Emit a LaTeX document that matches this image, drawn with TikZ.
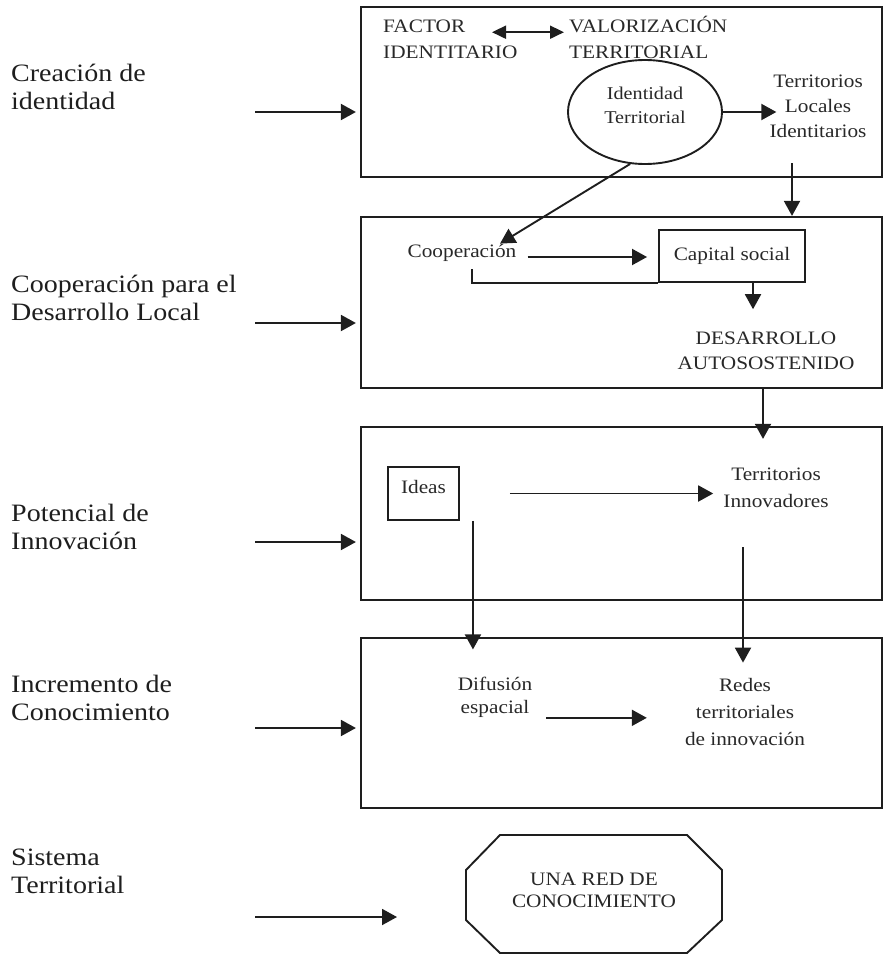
\documentclass[tikz,border=0pt]{standalone}
\usepackage{fontspec}
\setmainfont{Liberation Serif}[FakeStretch=1.12]
\usetikzlibrary{arrows.meta,calc,shapes.geometric}
\definecolor{ink}{RGB}{30,30,30}
\definecolor{txt}{RGB}{40,40,40}
\begin{document}
\begin{tikzpicture}[x=1pt,y=-1pt,
  every node/.style={inner sep=0pt, text=txt},
  box/.style={draw=ink, line width=2.2pt, minimum width=521pt, inner sep=0pt},
  frame/.style={draw=ink, line width=1.9pt},
  arr/.style={draw=ink, line width=1.9pt, -{Triangle[length=15pt,width=16pt]}},
  dbl/.style={draw=ink, line width=1.9pt, {Triangle[length=14pt,width=13pt]}-{Triangle[length=14pt,width=13pt]}},
  plain/.style={draw=ink, line width=1.9pt},
  lab/.style={anchor=base west, align=left, font=\fontsize{25}{28}\selectfont, text=ink},
  bt/.style={font=\fontsize{19}{#1}\selectfont, align=center, anchor=base},
]
\useasboundingbox (0,0) rectangle (884,955);

% main boxes
\node[box, minimum height=170pt] (b1) at (621.5,92) {};
\node[box, minimum height=171pt] (b2) at (621.5,302.5) {};
\node[box, minimum height=173pt] (b3) at (621.5,513.5) {};
\node[box, minimum height=170pt] (b4) at (621.5,723) {};

% left labels (anchor = baseline of last line)
\node[lab] (l1) at (11,110) {Creación de\\identidad};
\node[lab] (l2) at (11,320) {Cooperación para el\\Desarrollo Local};
\node[lab] (l3) at (11,549) {Potencial de\\Innovación};
\node[lab] (l4) at (11,720) {Incremento de\\Conocimiento};
\node[lab] (l5) at (11,893) {Sistema\\Territorial};

% left arrows
\coordinate (s1) at (255,112);
\coordinate (s2) at (255,323);
\coordinate (s3) at (255,542);
\coordinate (s4) at (255,728);
\coordinate (s5) at (255,917);
\coordinate (e5) at (397,917);
\draw[arr, shorten >=4pt] (s1) -- (s1 -| b1.west);
\draw[arr, shorten >=4pt] (s2) -- (s2 -| b2.west);
\draw[arr, shorten >=4pt] (s3) -- (s3 -| b3.west);
\draw[arr, shorten >=4pt] (s4) -- (s4 -| b4.west);
\draw[arr] (s5) -- (e5);

% box 1
\node[bt=26, align=left, anchor=base west] (fi) at (383,59) {FACTOR\\IDENTITARIO};
\node[bt=26, align=left, anchor=base west] (vt) at (569,59) {VALORIZACIÓN\\TERRITORIAL};
\draw[dbl] ($(fi.north west)+(109,12)$) -- ($(fi.north west -| vt.west)+(-5,12)$);
\node[frame, ellipse, minimum width=154pt, minimum height=104pt] (el) at (645,112) {};
\node[font=\fontsize{18}{24}\selectfont, align=center, anchor=base] (it) at (645,124) {Identidad\\Territorial};
\node[bt=25.5] (tli) at (818,138) {Territorios\\Locales\\Identitarios};
\draw[arr] (el.east) -- ($(tli.west |- el.east)+(7,0)$);
\draw[arr] ($(tli.south)+(-26,25)$) -- ($(tli.south |- b2.north)+(-26,0)$);

% box 2
\node[bt=25] (coop) at (462,257) {Cooperación};
\draw[arr] (el.254) -- ($(coop.north)+(38,0)$);
\node[frame, minimum width=146pt, minimum height=52pt, font=\fontsize{19}{23}\selectfont] (cap) at (732,256) {Capital social};
\draw[arr] ($(coop.base east)+(11,0)$) -- ($(coop.base east -| cap.west)+(-11,0)$);
\draw[plain] ($(coop.south)+(10,8)$) |- (cap.south west);
\node[bt=25] (des) at (766,369) {DESARROLLO\\AUTOSOSTENIDO};
\draw[arr] ($(cap.south)+(21,0)$) -- ($(des.north)+(-13,-22)$);
\draw[arr] ($(des.south |- b2.south)+(-3,0)$) -- ($(des.south |- b3.north)+(-3,13)$);

% box 3
\node[frame, minimum width=71pt, minimum height=53pt, text depth=14pt, font=\fontsize{19}{23}\selectfont] (ideas) at (423.5,493.5) {Ideas};
\node[bt=27] (ti) at (776,507) {Territorios\\Innovadores};
\draw[arr] ($(ideas.east)+(50,0)$) -- ($(ideas.east -| ti.west)+(-10,0)$);

% box 4
\node[bt=23] (dif) at (495,713) {Difusión\\espacial};
\node[bt=27] (redes) at (745,745) {Redes\\territoriales\\de innovación};
\draw[arr] ($(ti.south)+(-33,40)$) -- ($(ti.south |- redes.north)+(-33,-15)$);
\draw[arr] ($(ideas.south east)+(13,0)$) -- ($(ideas.south east |- dif.north)+(13,-27)$);
\draw[arr] ($(dif.east)+(14,21)$) -- ($(redes.west |- dif.east)+(-38,21)$);

% final octagon
\node[bt=22] (red) at (594,907) {UNA RED DE\\CONOCIMIENTO};
\draw[frame] (500,835) -- (687,835) -- (722,870) -- (722,920) -- (687,953) -- (500,953) -- (466,920) -- (466,870) -- cycle;
\end{tikzpicture}
\end{document}
